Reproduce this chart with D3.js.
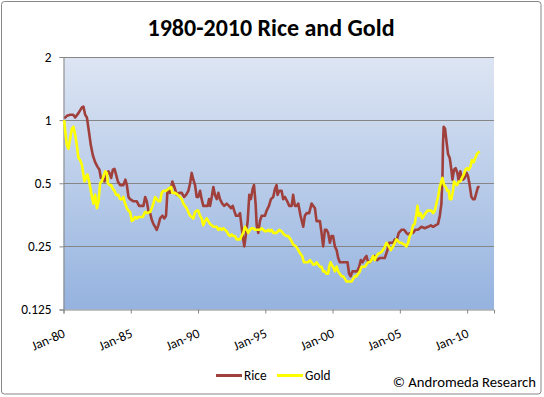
<!DOCTYPE html>
<html><head><meta charset="utf-8">
<script src="https://cdn.jsdelivr.net/npm/d3@7/dist/d3.min.js"></script>
<style>
body{margin:0;background:#fff;}
text{font-family:"Carlito","Liberation Sans",Arial,sans-serif;}
</style></head>
<body><svg id="chart" width="544" height="397"></svg>
<script>
// ---- data (time = years since Jan 1980) ----
const title = "1980-2010 Rice and Gold";
const seriesNames = ["Rice", "Gold"];
const riceT = [0.07,0.27,0.50,0.72,0.87,1.11,1.37,1.48,1.61,1.74,1.86,2.03,2.18,2.35,2.52,2.67,2.78,2.92,3.04,3.22,3.34,3.47,3.54,3.67,3.79,3.91,4.04,4.21,4.45,4.60,4.71,4.83,4.95,5.20,5.45,5.62,5.82,5.94,6.07,6.19,6.31,6.44,6.56,6.68,6.81,6.93,7.05,7.18,7.35,7.50,7.62,7.72,7.80,7.92,8.09,8.24,8.42,8.59,8.79,8.96,9.11,9.28,9.41,9.53,9.65,9.78,9.90,10.02,10.15,10.27,10.39,10.57,10.72,10.82,10.89,11.02,11.14,11.26,11.39,11.51,11.63,11.80,11.95,12.13,12.30,12.45,12.58,12.69,12.82,12.99,13.12,13.24,13.36,13.44,13.54,13.69,13.81,13.93,14.06,14.16,14.28,14.36,14.48,14.60,14.73,14.97,15.10,15.27,15.42,15.59,15.72,15.84,15.91,16.04,16.21,16.33,16.46,16.63,16.78,16.96,17.07,17.20,17.33,17.45,17.62,17.82,17.94,18.07,18.26,18.44,18.56,18.69,18.81,18.93,19.06,19.18,19.30,19.43,19.55,19.67,19.80,19.92,20.04,20.17,20.30,20.42,20.54,20.67,20.79,20.99,21.11,21.23,21.34,21.48,21.66,21.83,21.98,22.10,22.23,22.40,22.52,22.64,22.77,22.97,23.14,23.31,23.51,23.88,24.08,24.20,24.38,24.50,24.63,24.75,24.92,25.12,25.32,25.49,25.61,25.81,25.98,26.16,26.35,26.61,26.85,27.10,27.30,27.47,27.65,27.84,27.97,28.09,28.17,28.21,28.26,28.36,28.46,28.58,28.71,28.83,28.91,29.03,29.15,29.28,29.38,29.50,29.58,29.70,29.82,29.97,30.07,30.19,30.32,30.44,30.56,30.69,30.81,30.93];
const riceV = [1.02,1.05,1.06,1.06,1.03,1.08,1.15,1.16,1.06,1.03,0.91,0.76,0.68,0.63,0.60,0.58,0.53,0.53,0.51,0.55,0.57,0.55,0.53,0.58,0.585,0.55,0.51,0.49,0.49,0.52,0.49,0.43,0.42,0.41,0.41,0.39,0.39,0.39,0.43,0.41,0.37,0.36,0.335,0.32,0.31,0.30,0.315,0.34,0.35,0.34,0.35,0.45,0.46,0.45,0.51,0.48,0.44,0.45,0.45,0.43,0.44,0.46,0.50,0.56,0.52,0.49,0.43,0.43,0.46,0.42,0.39,0.39,0.39,0.42,0.39,0.43,0.48,0.44,0.42,0.45,0.42,0.40,0.39,0.40,0.39,0.38,0.39,0.37,0.35,0.35,0.36,0.31,0.27,0.25,0.28,0.33,0.44,0.42,0.47,0.49,0.40,0.315,0.29,0.33,0.35,0.35,0.37,0.39,0.42,0.43,0.47,0.49,0.44,0.46,0.46,0.42,0.43,0.41,0.39,0.39,0.44,0.39,0.39,0.40,0.35,0.31,0.35,0.36,0.36,0.40,0.39,0.38,0.33,0.33,0.33,0.29,0.25,0.30,0.30,0.29,0.26,0.28,0.28,0.25,0.24,0.22,0.21,0.21,0.21,0.21,0.21,0.185,0.18,0.19,0.19,0.19,0.20,0.215,0.21,0.22,0.225,0.21,0.21,0.22,0.225,0.215,0.22,0.22,0.24,0.26,0.26,0.26,0.27,0.265,0.29,0.30,0.30,0.29,0.285,0.29,0.29,0.30,0.30,0.31,0.305,0.31,0.315,0.31,0.315,0.32,0.35,0.40,0.54,0.775,0.93,0.91,0.80,0.69,0.66,0.58,0.52,0.58,0.59,0.56,0.51,0.57,0.54,0.52,0.53,0.56,0.54,0.49,0.43,0.42,0.42,0.45,0.48,0.48];
const goldT = [0.05,0.13,0.25,0.37,0.50,0.62,0.74,0.87,0.99,1.11,1.24,1.37,1.48,1.56,1.69,1.78,1.93,2.03,2.15,2.23,2.35,2.48,2.60,2.72,2.85,2.97,3.10,3.22,3.30,3.42,3.54,3.67,3.79,3.91,4.08,4.21,4.34,4.45,4.58,4.71,4.83,4.95,5.08,5.20,5.32,5.45,5.57,5.75,5.89,6.07,6.24,6.44,6.56,6.68,6.81,6.93,7.05,7.18,7.30,7.42,7.62,7.80,8.00,8.09,8.29,8.49,8.66,8.79,8.91,9.03,9.16,9.28,9.41,9.53,9.65,9.78,9.90,10.02,10.15,10.27,10.39,10.52,10.65,10.76,10.89,11.02,11.14,11.26,11.39,11.51,11.63,11.76,11.88,12.00,12.13,12.25,12.38,12.50,12.62,12.75,12.87,12.99,13.12,13.24,13.36,13.49,13.62,13.73,13.86,13.99,14.11,14.23,14.36,14.48,14.60,14.73,14.85,14.97,15.10,15.22,15.35,15.47,15.59,15.84,16.04,16.21,16.38,16.59,16.70,16.88,17.08,17.28,17.45,17.62,17.74,17.87,18.02,18.19,18.32,18.44,18.56,18.69,18.81,18.93,19.06,19.18,19.30,19.43,19.55,19.67,19.75,19.85,19.92,20.04,20.17,20.30,20.42,20.54,20.67,20.79,20.92,21.04,21.16,21.29,21.41,21.53,21.66,21.78,21.90,22.03,22.15,22.27,22.40,22.52,22.64,22.77,22.89,23.01,23.14,23.26,23.38,23.64,23.83,24.01,24.18,24.33,24.50,24.63,24.75,24.87,25.00,25.12,25.32,25.49,25.61,25.74,25.86,25.98,26.11,26.24,26.31,26.41,26.54,26.66,26.78,26.91,27.06,27.23,27.35,27.47,27.60,27.72,27.84,27.97,28.09,28.17,28.29,28.41,28.54,28.64,28.71,28.83,28.95,29.03,29.13,29.25,29.38,29.50,29.62,29.75,29.88,29.99,30.12,30.25,30.36,30.49,30.61,30.73,30.93];
const goldV = [1.0,0.88,0.76,0.73,0.82,0.91,0.93,0.85,0.76,0.66,0.645,0.61,0.55,0.51,0.54,0.55,0.50,0.46,0.42,0.40,0.44,0.38,0.41,0.50,0.51,0.54,0.57,0.56,0.50,0.49,0.49,0.47,0.46,0.44,0.44,0.42,0.42,0.43,0.40,0.38,0.37,0.365,0.33,0.335,0.345,0.34,0.345,0.345,0.345,0.365,0.36,0.365,0.38,0.40,0.43,0.42,0.41,0.41,0.45,0.46,0.46,0.47,0.48,0.45,0.45,0.44,0.43,0.42,0.40,0.39,0.38,0.365,0.35,0.345,0.34,0.365,0.37,0.37,0.35,0.34,0.315,0.33,0.34,0.33,0.32,0.315,0.31,0.31,0.31,0.30,0.305,0.30,0.305,0.30,0.295,0.285,0.28,0.285,0.28,0.28,0.27,0.27,0.27,0.28,0.29,0.31,0.30,0.29,0.30,0.305,0.305,0.30,0.30,0.30,0.30,0.305,0.30,0.295,0.295,0.30,0.295,0.30,0.29,0.29,0.30,0.295,0.285,0.28,0.28,0.27,0.255,0.25,0.24,0.23,0.225,0.21,0.21,0.21,0.215,0.21,0.205,0.205,0.21,0.205,0.20,0.20,0.19,0.19,0.185,0.185,0.20,0.21,0.205,0.20,0.19,0.20,0.19,0.185,0.18,0.18,0.175,0.17,0.17,0.17,0.17,0.175,0.18,0.18,0.185,0.19,0.20,0.20,0.20,0.205,0.21,0.21,0.215,0.225,0.215,0.225,0.23,0.235,0.245,0.26,0.25,0.24,0.25,0.26,0.27,0.265,0.26,0.26,0.255,0.25,0.26,0.28,0.29,0.315,0.32,0.36,0.39,0.35,0.36,0.34,0.35,0.36,0.37,0.37,0.37,0.36,0.37,0.40,0.43,0.48,0.51,0.53,0.49,0.48,0.46,0.46,0.42,0.42,0.46,0.51,0.50,0.49,0.51,0.51,0.53,0.55,0.58,0.59,0.58,0.60,0.645,0.63,0.66,0.69,0.71];
const xTickYears = [1980,1985,1990,1995,2000,2005,2010];
const xTickLabels = ["Jan-80","Jan-85","Jan-90","Jan-95","Jan-00","Jan-05","Jan-10"];
const yTickValues = [0.125,0.25,0.5,1,2];
const yTickLabels = ["0.125","0.25","0.5","1","2"];
const credit = "\u00A9 Andromeda Research";

// ---- layout ----
const svg = d3.select("#chart");
const plot = {left:63.5, right:494, top:57, bottom:309.5};
const toDate = t => new Date(Date.UTC(1980,0,1) + t*365.25*864e5);

const x = d3.scaleUtc().domain([new Date(Date.UTC(1980,0,1)), new Date(Date.UTC(2012,0,1))]).range([plot.left, plot.right]);
const y = d3.scaleLog().base(2).domain([0.125, 2]).range([plot.bottom, plot.top]);

// outer frame
svg.append("rect").attr("x",1.5).attr("y",1.5).attr("width",539.5).attr("height",392.5)
  .attr("rx",3).attr("fill","#fff").attr("stroke","#868686").attr("stroke-width",1);

// gradient
const defs = svg.append("defs");
const grad = defs.append("linearGradient").attr("id","bg").attr("x1",0).attr("y1",0).attr("x2",0).attr("y2",1);
grad.append("stop").attr("offset","0%").attr("stop-color","#DDE5F3");
grad.append("stop").attr("offset","100%").attr("stop-color","#95B3DF");
svg.append("rect").attr("x",plot.left).attr("y",plot.top).attr("width",plot.right-plot.left).attr("height",plot.bottom-plot.top).attr("fill","url(#bg)");

// gridlines
svg.append("g").selectAll("line").data(yTickValues.filter(v=>v>0.125)).join("line")
  .attr("x1",plot.left).attr("x2",plot.right)
  .attr("y1",d=>Math.round(y(d))+0.5).attr("y2",d=>Math.round(y(d))+0.5)
  .attr("stroke","#868686").attr("stroke-width",1);

// y axis
const yAxis = d3.axisLeft(y).tickValues(yTickValues).tickSize(4).tickPadding(8)
  .tickFormat((d,i)=>yTickLabels[i]);
const gy = svg.append("g").attr("transform",`translate(${plot.left},0)`).call(yAxis);
gy.select(".domain").attr("stroke","#868686");
gy.selectAll(".tick line").attr("stroke","#868686");
gy.selectAll(".tick text").attr("font-size",13.3).attr("fill","#000");

// x axis
const xAxis = d3.axisBottom(x).tickValues(xTickYears.map(yr=>new Date(Date.UTC(yr,0,1))))
  .tickSize(4).tickFormat((d,i)=>xTickLabels[i]);
const gx = svg.append("g").attr("transform",`translate(0,${plot.bottom})`).call(xAxis);
gx.select(".domain").attr("stroke","#868686");
gx.selectAll(".tick line").attr("stroke","#868686");
gx.selectAll(".tick text").attr("font-size",13.3).attr("fill","#000")
  .attr("text-anchor","end").attr("y",0).attr("dy",0)
  .attr("transform","translate(2,27) rotate(-24)");

// lines
const line = d3.line().x(d=>x(toDate(d[0]))).y(d=>y(d[1])).curve(d3.curveLinear);
const rice = riceT.map((t,i)=>[t,riceV[i]]);
const gold = goldT.map((t,i)=>[t,goldV[i]]);
const colors = ["#A0403C","#FFFF00"];
svg.append("path").datum(rice).attr("d",line).attr("fill","none").attr("stroke",colors[0]).attr("stroke-width",2.6).attr("stroke-linejoin","round");
svg.append("path").datum(gold).attr("d",line).attr("fill","none").attr("stroke",colors[1]).attr("stroke-width",2.6).attr("stroke-linejoin","round");

// title
svg.append("text").attr("x",271).attr("y",36).attr("text-anchor","middle")
  .attr("font-size",24).attr("font-weight","bold").attr("fill","#000").text(title);

// legend
const legX = [216, 277];
const lg = svg.append("g");
seriesNames.forEach((n,i)=>{
  lg.append("line").attr("x1",legX[i]).attr("x2",legX[i]+26).attr("y1",375.5).attr("y2",375.5)
    .attr("stroke",colors[i]).attr("stroke-width",3);
  lg.append("text").attr("x",legX[i]+28).attr("y",380).attr("font-size",13.3).attr("fill","#000").text(n);
});

// credit
svg.append("text").attr("x",536).attr("y",386.5).attr("text-anchor","end")
  .attr("font-size",14.7).attr("fill","#000").text(credit);
</script></body></html>
